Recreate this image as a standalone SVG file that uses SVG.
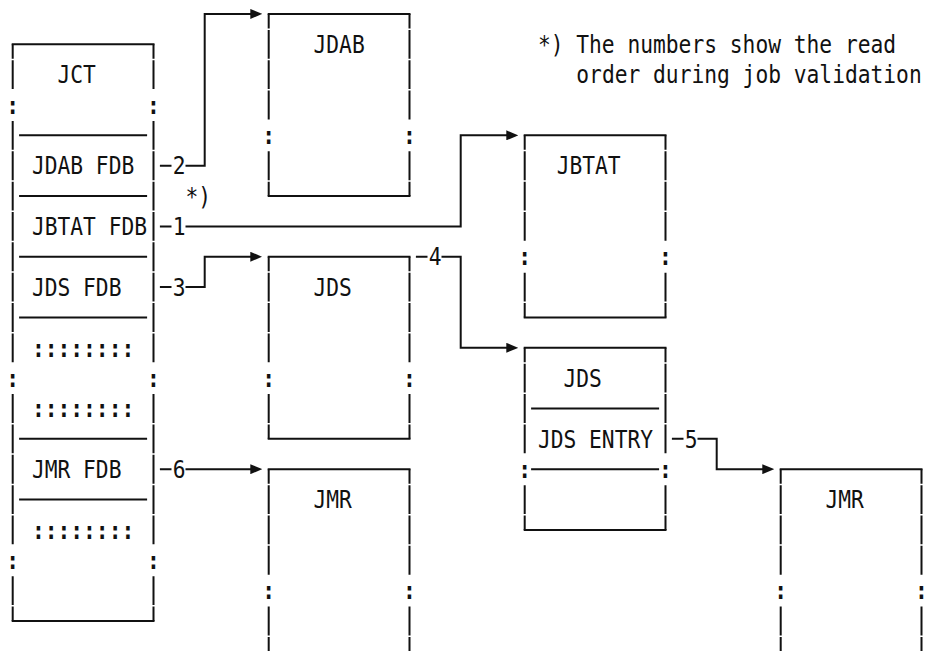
<svg xmlns="http://www.w3.org/2000/svg" width="931" height="651" viewBox="0 0 931 651">
<style>
.h{fill:none;stroke:#111;stroke-width:2;stroke-linecap:square}
.s{fill:none;stroke:#111;stroke-width:2}
.vc{stroke:#111;stroke-width:2;stroke-dasharray:28.85 1.5;stroke-dashoffset:14.425}
.vb{stroke:#111;stroke-width:2;stroke-dasharray:28.85 1.5}
.cn{fill:none;stroke:#111;stroke-width:2;stroke-linejoin:miter}
text{font-family:"DejaVu Sans Mono","Liberation Mono",monospace;font-size:21.26px;fill:#111}
.c{font-weight:bold}
</style>
<defs>
<marker id="ah" markerUnits="userSpaceOnUse" viewBox="0 0 12 10" refX="5.6" refY="5" markerWidth="12" markerHeight="10" orient="auto"><path d="M0,0 L12,5 L0,10 Z" fill="#111"/></marker>
</defs>

<g id="JCT">
<path class="h" d="M12.7,44.3 H153.5 M12.7,620.95 H153.5"/>
<line class="vc" x1="12.7" y1="44.3" x2="12.7" y2="89.075"/>
<line class="vb" x1="12.7" y1="120.925" x2="12.7" y2="362.225"/>
<line class="vb" x1="12.7" y1="394.075" x2="12.7" y2="544.325"/>
<line class="vb" x1="12.7" y1="576.175" x2="12.7" y2="620.95"/>
<line class="vc" x1="153.5" y1="44.3" x2="153.5" y2="89.075"/>
<line class="vb" x1="153.5" y1="120.925" x2="153.5" y2="362.225"/>
<line class="vb" x1="153.5" y1="394.075" x2="153.5" y2="544.325"/>
<line class="vb" x1="153.5" y1="576.175" x2="153.5" y2="620.95"/>
<path class="s" d="M19.1,135.35 H147.1 M19.1,196.05 H147.1 M19.1,256.75 H147.1 M19.1,317.45 H147.1 M19.1,438.85 H147.1 M19.1,499.55 H147.1"/>
<text class="c" transform="translate(6.3,113.7) scale(1,1.13)">:</text>
<text class="c" transform="translate(147.1,113.7) scale(1,1.13)">:</text>
<text class="c" transform="translate(6.3,386.85) scale(1,1.13)">:</text>
<text class="c" transform="translate(147.1,386.85) scale(1,1.13)">:</text>
<text class="c" transform="translate(6.3,568.95) scale(1,1.13)">:</text>
<text class="c" transform="translate(147.1,568.95) scale(1,1.13)">:</text>
<text transform="translate(57.5,83.35) scale(1,1.13)">JCT</text>
<text transform="translate(31.9,174.4) scale(1,1.13)">JDAB FDB</text>
<text transform="translate(31.9,235.1) scale(1,1.13)">JBTAT FDB</text>
<text transform="translate(31.9,295.8) scale(1,1.13)">JDS FDB</text>
<text class="c" transform="translate(31.9,356.5) scale(1,1.13)">::::::::</text>
<text class="c" transform="translate(31.9,417.2) scale(1,1.13)">::::::::</text>
<text transform="translate(31.9,477.9) scale(1,1.13)">JMR FDB</text>
<text class="c" transform="translate(31.9,538.6) scale(1,1.13)">::::::::</text>
</g>

<g id="JDAB">
<path class="h" d="M268.7,13.95 H409.5 M268.7,196.05 H409.5"/>
<line class="vc" x1="268.7" y1="13.95" x2="268.7" y2="119.425"/>
<line class="vb" x1="268.7" y1="151.275" x2="268.7" y2="196.05"/>
<line class="vc" x1="409.5" y1="13.95" x2="409.5" y2="119.425"/>
<line class="vb" x1="409.5" y1="151.275" x2="409.5" y2="196.05"/>
<text class="c" transform="translate(262.3,144.05) scale(1,1.13)">:</text>
<text class="c" transform="translate(403.1,144.05) scale(1,1.13)">:</text>
<text transform="translate(313.5,53) scale(1,1.13)">JDAB</text>
</g>

<g id="JBTAT">
<path class="h" d="M524.7,135.35 H665.5 M524.7,317.45 H665.5"/>
<line class="vc" x1="524.7" y1="135.35" x2="524.7" y2="240.825"/>
<line class="vb" x1="524.7" y1="272.675" x2="524.7" y2="317.45"/>
<line class="vc" x1="665.5" y1="135.35" x2="665.5" y2="240.825"/>
<line class="vb" x1="665.5" y1="272.675" x2="665.5" y2="317.45"/>
<text class="c" transform="translate(518.3,265.45) scale(1,1.13)">:</text>
<text class="c" transform="translate(659.1,265.45) scale(1,1.13)">:</text>
<text transform="translate(556.7,174.4) scale(1,1.13)">JBTAT</text>
</g>

<g id="JDS">
<path class="h" d="M268.7,256.75 H409.5 M268.7,438.85 H409.5"/>
<line class="vc" x1="268.7" y1="256.75" x2="268.7" y2="362.225"/>
<line class="vb" x1="268.7" y1="394.075" x2="268.7" y2="438.85"/>
<line class="vc" x1="409.5" y1="256.75" x2="409.5" y2="362.225"/>
<line class="vb" x1="409.5" y1="394.075" x2="409.5" y2="438.85"/>
<text class="c" transform="translate(262.3,386.85) scale(1,1.13)">:</text>
<text class="c" transform="translate(403.1,386.85) scale(1,1.13)">:</text>
<text transform="translate(313.5,295.8) scale(1,1.13)">JDS</text>
</g>

<g id="JDS_ENTRY_BLOCK">
<path class="h" d="M524.7,347.8 H665.5 M524.7,529.9 H665.5"/>
<line class="vc" x1="524.7" y1="347.8" x2="524.7" y2="453.275"/>
<line class="vb" x1="524.7" y1="485.125" x2="524.7" y2="529.9"/>
<line class="vc" x1="665.5" y1="347.8" x2="665.5" y2="453.275"/>
<line class="vb" x1="665.5" y1="485.125" x2="665.5" y2="529.9"/>
<path class="s" d="M531.1,408.5 H659.1 M531.1,469.2 H659.1"/>
<text class="c" transform="translate(518.3,477.9) scale(1,1.13)">:</text>
<text class="c" transform="translate(659.1,477.9) scale(1,1.13)">:</text>
<text transform="translate(563.5,386.85) scale(1,1.13)">JDS</text>
<text transform="translate(537.9,447.55) scale(1,1.13)">JDS ENTRY</text>
</g>

<g id="JMR1">
<path class="h" d="M268.7,469.2 H409.5"/>
<line class="vc" x1="268.7" y1="469.2" x2="268.7" y2="574.675"/>
<line class="vb" x1="268.7" y1="606.525" x2="268.7" y2="660"/>
<line class="vc" x1="409.5" y1="469.2" x2="409.5" y2="574.675"/>
<line class="vb" x1="409.5" y1="606.525" x2="409.5" y2="660"/>
<text class="c" transform="translate(262.3,599.3) scale(1,1.13)">:</text>
<text class="c" transform="translate(403.1,599.3) scale(1,1.13)">:</text>
<text transform="translate(313.5,508.25) scale(1,1.13)">JMR</text>
</g>

<g id="JMR2">
<path class="h" d="M780.7,469.2 H921.5"/>
<line class="vc" x1="780.7" y1="469.2" x2="780.7" y2="574.675"/>
<line class="vb" x1="780.7" y1="606.525" x2="780.7" y2="660"/>
<line class="vc" x1="921.5" y1="469.2" x2="921.5" y2="574.675"/>
<line class="vb" x1="921.5" y1="606.525" x2="921.5" y2="660"/>
<text class="c" transform="translate(774.3,599.3) scale(1,1.13)">:</text>
<text class="c" transform="translate(915.1,599.3) scale(1,1.13)">:</text>
<text transform="translate(825.5,508.25) scale(1,1.13)">JMR</text>
</g>

<g id="connectors">
<path class="s" d="M159.9,165.7 H171.5 M159.9,226.4 H171.5 M159.9,287.1 H171.5 M159.9,469.2 H171.5 M415.9,256.75 H427.5 M671.9,438.85 H683.5"/>
<path class="cn" marker-end="url(#ah)" d="M185.5,165.7 H204.7 V13.95 H255.9"/>
<path class="cn" marker-end="url(#ah)" d="M185.5,226.4 H460.7 V135.35 H511.9"/>
<path class="cn" marker-end="url(#ah)" d="M185.5,287.1 H204.7 V256.75 H255.9"/>
<path class="cn" marker-end="url(#ah)" d="M441.5,256.75 H460.7 V347.8 H511.9"/>
<path class="cn" marker-end="url(#ah)" d="M697.5,438.85 H716.7 V469.2 H767.9"/>
<path class="cn" marker-end="url(#ah)" d="M185.5,469.2 H255.9"/>
<text transform="translate(172.7,174.4) scale(1,1.13)">2</text>
<text transform="translate(172.7,235.1) scale(1,1.13)">1</text>
<text transform="translate(172.7,295.8) scale(1,1.13)">3</text>
<text transform="translate(172.7,477.9) scale(1,1.13)">6</text>
<text transform="translate(428.7,265.45) scale(1,1.13)">4</text>
<text transform="translate(684.7,447.55) scale(1,1.13)">5</text>
<text transform="translate(185.5,204.75) scale(1,1.13)">*)</text>
</g>

<g id="note">
<text transform="translate(537.9,53) scale(1,1.13)">*) The numbers show the read</text>
<text transform="translate(576.3,83.35) scale(1,1.13)">order during job validation</text>
</g>
</svg>
